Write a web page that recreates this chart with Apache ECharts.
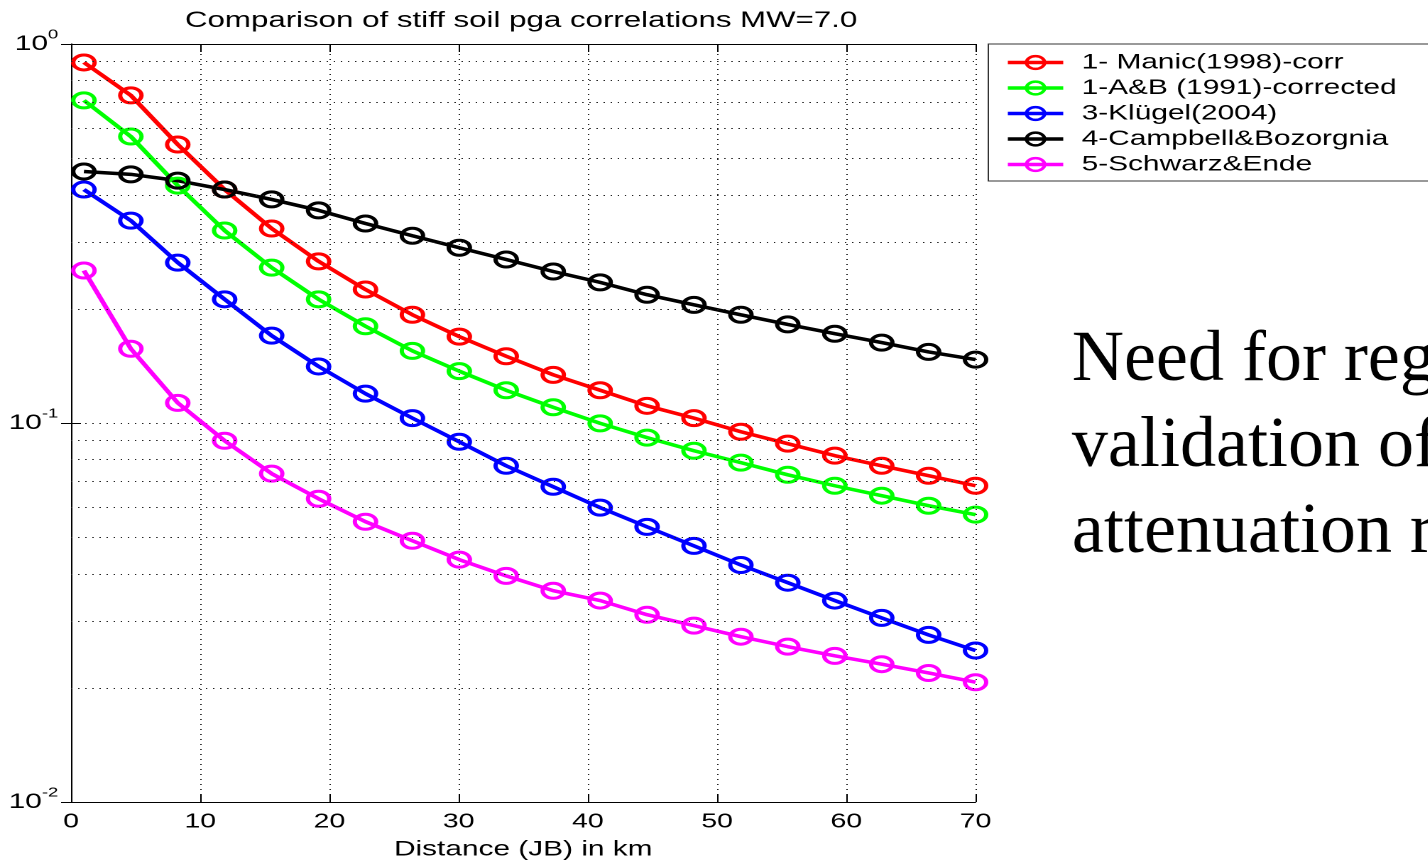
<!DOCTYPE html>
<html>
<head>
<meta charset="utf-8">
<title>Comparison of stiff soil pga correlations MW=7.0</title>
<script src="https://cdn.jsdelivr.net/npm/echarts@6/dist/echarts.min.js"></script>
<style>
  html, body { margin: 0; padding: 0; background: #fff; overflow: hidden; }
  /* the original figure was stretched sideways when pasted into the slide */
  #chart { width: 1006px; height: 860px; transform: scaleX(1.42); transform-origin: 0 0; }
</style>
</head>
<body>
<div id="chart"></div>
<script>
// distance (JB) in km, 20 points from 1 to 70
var distances = [1, 4.63, 8.26, 11.89, 15.53, 19.16, 22.79, 26.42, 30.05, 33.68,
                 37.32, 40.95, 44.58, 48.21, 51.84, 55.47, 59.11, 62.74, 66.37, 70]

var seriesNames = ['1- Manic(1998)-corr', '1-A&B (1991)-corrected', '3-Klügel(2004)',
                   '4-Campbell&Bozorgnia', '5-Schwarz&Ende']

var manic = [0.894, 0.732, 0.543, 0.413, 0.326, 0.267, 0.225, 0.193, 0.169, 0.150,
             0.134, 0.122, 0.111, 0.103, 0.0948, 0.0882, 0.0820, 0.0771, 0.0726, 0.0683]
var ab = [0.710, 0.570, 0.423, 0.322, 0.257, 0.212, 0.180, 0.155, 0.137, 0.122,
          0.110, 0.0998, 0.0915, 0.0845, 0.0786, 0.0730, 0.0683, 0.0643, 0.0605, 0.0573]
var klugel = [0.413, 0.342, 0.265, 0.212, 0.170, 0.141, 0.1195, 0.103, 0.0892, 0.0771,
              0.0679, 0.0598, 0.0532, 0.0474, 0.0422, 0.0379, 0.0340, 0.0306, 0.0276, 0.0251]
var campbell = [0.461, 0.453, 0.436, 0.413, 0.389, 0.364, 0.336, 0.312, 0.290, 0.270,
                0.251, 0.235, 0.218, 0.205, 0.193, 0.182, 0.172, 0.163, 0.154, 0.147]
var schwarz = [0.2525, 0.157, 0.113, 0.0898, 0.0735, 0.0631, 0.0549, 0.0489, 0.0436, 0.0395,
               0.0361, 0.0340, 0.0312, 0.0292, 0.0273, 0.0257, 0.0243, 0.0231, 0.0219, 0.0207]

var seriesValues = [manic, ab, klugel, campbell, schwarz]
var seriesColors = ['#ff0000', '#00ff00', '#0000ff', '#000000', '#ff00ff']

// log grid lines between the decades (2..9 x 10^k)
var minorGridValues = [0.02, 0.03, 0.04, 0.05, 0.06, 0.07, 0.08, 0.09,
                       0.2, 0.3, 0.4, 0.5, 0.6, 0.7, 0.8, 0.9]

var sideText = ['Need for regional', 'validation of', 'attenuation relations']

var STRETCH = 1.42
var chart = echarts.init(document.getElementById('chart'), null, { devicePixelRatio: 2 })

var FONT = 'Liberation Sans, Arial, sans-serif'
var dotted = { color: '#222', width: 1, type: [1, 4] }

function pairs(ys) {
  return ys.map(function (v, i) { return [distances[i], v] })
}

var series = seriesValues.map(function (ys, k) {
  return {
    name: seriesNames[k],
    type: 'line',
    data: pairs(ys),
    symbol: 'circle',
    symbolSize: 15,
    z: 3,
    lineStyle: { color: seriesColors[k], width: 3.5 },
    itemStyle: { color: 'rgba(255,255,255,0)', borderColor: seriesColors[k], borderWidth: 3 },
    emphasis: { disabled: true }
  }
})

// dotted minor grid, drawn under the curves
series.push({
  type: 'line',
  data: [],
  z: 1,
  silent: true,
  markLine: {
    silent: true,
    symbol: 'none',
    label: { show: false },
    lineStyle: dotted,
    animation: false,
    data: minorGridValues.map(function (v) { return { yAxis: v } })
  }
})

chart.setOption({
  animation: false,
  backgroundColor: '#fff',
  textStyle: { fontFamily: FONT },
  grid: { left: 50, right: 319, top: 44, bottom: 58, outerBoundsMode: 'none' },
  legend: {
    data: seriesNames,
    orient: 'vertical',
    left: 696,
    top: 44,
    padding: [8, 80, 6, 12],
    itemWidth: 39,
    itemHeight: 16,
    itemGap: 4.5,
    borderColor: '#333',
    borderWidth: 1,
    backgroundColor: '#fff',
    lineStyle: { width: 3.5 },
    itemStyle: { borderWidth: 2.5 },
    textStyle: { fontFamily: FONT, fontSize: 21, color: '#000', lineHeight: 16, padding: [0, 0, 0, 8] }
  },
  graphic: [
    {
      type: 'text',
      x: 367,
      y: 21,
      style: {
        text: 'Comparison of stiff soil pga correlations MW=7.0',
        font: '22px ' + FONT,
        fill: '#000',
        textAlign: 'center',
        textVerticalAlign: 'middle'
      }
    }
  ].concat(sideText.map(function (t, i) {
    return {
      type: 'text',
      x: 1072 / STRETCH,
      y: 397 + i * 86,
      scaleX: 1 / STRETCH,
      style: {
        text: t,
        font: '72px "Liberation Serif", "Times New Roman", serif',
        fill: '#000',
        textVerticalAlign: 'bottom'
      }
    }
  })),
  xAxis: [
    {
      type: 'value',
      min: 0,
      max: 70,
      interval: 10,
      name: 'Distance (JB) in km',
      nameLocation: 'middle',
      nameGap: 37,
      nameTextStyle: { fontSize: 21, color: '#000', fontFamily: FONT },
      axisLine: { lineStyle: { color: '#000', width: 1 } },
      axisTick: { inside: true, length: 8, lineStyle: { color: '#000' } },
      axisLabel: { fontSize: 20, color: '#000', margin: 10, fontFamily: FONT },
      splitLine: { show: true, lineStyle: dotted }
    },
    {
      type: 'value',
      position: 'top',
      min: 0,
      max: 70,
      interval: 10,
      axisLine: { show: true, lineStyle: { color: '#000', width: 1 } },
      axisTick: { inside: true, length: 8, lineStyle: { color: '#000' } },
      axisLabel: { show: false },
      splitLine: { show: false }
    }
  ],
  yAxis: [
    {
      type: 'log',
      logBase: 10,
      min: 0.01,
      max: 1,
      axisLine: { show: true, lineStyle: { color: '#000', width: 1 } },
      axisTick: { show: true, inside: true, length: 7, lineStyle: { color: '#000' } },
      axisLabel: {
        margin: 9,
        color: '#000',
        formatter: function (v) {
          var e = Math.round(Math.log10(v))
          return '{b|10}{s|' + e + '}'
        },
        rich: {
          b: { fontSize: 21, fontFamily: FONT, color: '#000' },
          s: { fontSize: 13, fontFamily: FONT, color: '#000', padding: [0, 0, 18, 0] }
        }
      },
      splitLine: { show: true, lineStyle: dotted }
    },
    {
      type: 'log',
      logBase: 10,
      min: 0.01,
      max: 1,
      position: 'right',
      axisLine: { show: true, lineStyle: { color: '#000', width: 1 } },
      axisTick: { show: true, inside: true, length: 7, lineStyle: { color: '#000' } },
      axisLabel: { show: false },
      splitLine: { show: false }
    }
  ],
  series: series
})
</script>
</body>
</html>
